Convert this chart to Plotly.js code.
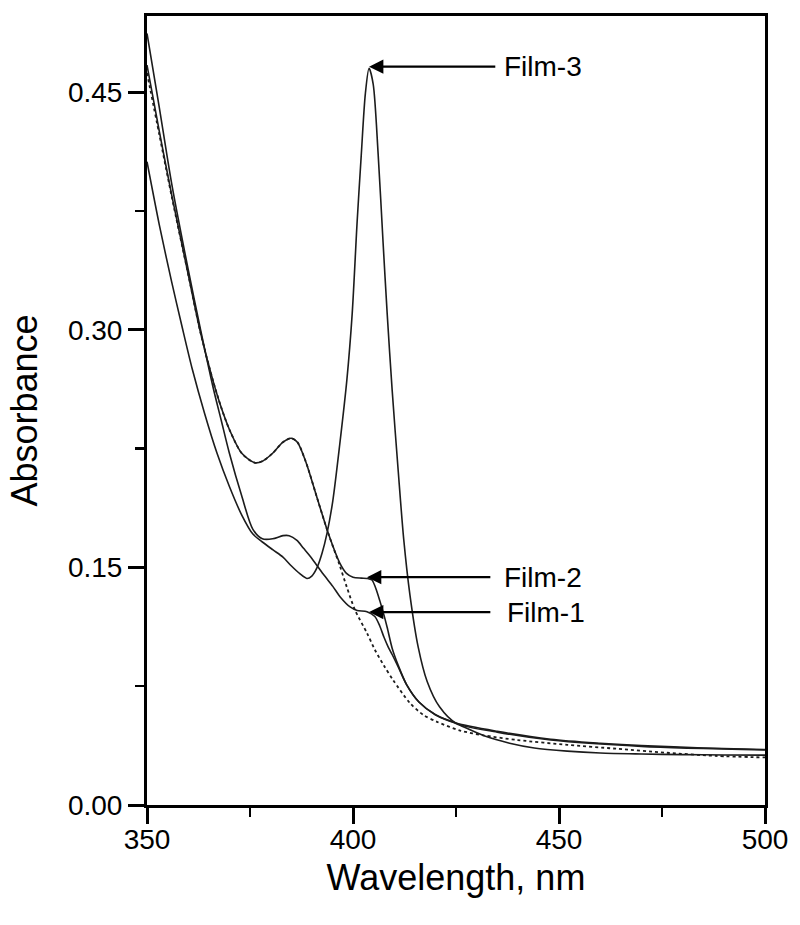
<!DOCTYPE html>
<html>
<head>
<meta charset="utf-8">
<script src="https://cdn.plot.ly/plotly-3.0.1.min.js"></script>
<style>html,body{margin:0;padding:0;background:#fff;}#chart{width:800px;height:925px;}</style>
</head>
<body>
<div id="chart"></div>
<script>
// Wavelength (nm) and absorbance values
const film1X = [350,353,356,360,363,366,368,370,373,375.7,378,380.5,383,384.5,386.4,388,389.6,391.3,393,395.1,397,399.3,401,403.4,405.3,406.5,407.5,408.5,409.5,411,413,416,420,425,432,438,444,452,460,470,480,490,500];
const film1Y = [0.487,0.440,0.392,0.338,0.300,0.264,0.243,0.222,0.195,0.174,0.168,0.168,0.170,0.170,0.167,0.162,0.157,0.151,0.145,0.138,0.131,0.125,0.1228,0.122,0.119,0.113,0.106,0.100,0.095,0.087,0.076,0.065,0.057,0.0515,0.0435,0.039,0.036,0.034,0.0328,0.0322,0.0318,0.0316,0.0315];

const film2X = [350,353,356,360,363,366,368,370,373,376.2,378,380.5,383,385,386.5,388.5,391.5,394,396.8,398.5,400,402,403.4,404.6,405.5,406.5,407.5,408.3,409.5,411,413,416,420,425,435,448,460,470,485,500];
const film2Y = [0.467,0.425,0.385,0.335,0.298,0.268,0.251,0.237,0.222,0.216,0.217,0.222,0.229,0.2315,0.229,0.217,0.192,0.1715,0.1527,0.146,0.1438,0.1432,0.143,0.142,0.137,0.129,0.120,0.112,0.099,0.088,0.076,0.065,0.057,0.0517,0.0465,0.0415,0.039,0.0375,0.036,0.035];

const film3X = [350,353,356,358.5,361,364,367,370,373,375.7,378,380.6,383,385,387.1,388.8,390,391.3,392.5,393.7,395.1,396.8,398.5,399.8,401,402,403,403.9,404.9,406.1,407.3,408.3,409.5,411,412.3,413.8,415.8,418,421,425,435,448,470,500];
const film3Y = [0.406,0.366,0.330,0.302,0.275,0.247,0.222,0.201,0.183,0.171,0.166,0.161,0.1565,0.151,0.146,0.143,0.1445,0.150,0.159,0.1716,0.192,0.228,0.268,0.310,0.368,0.410,0.449,0.465,0.455,0.411,0.355,0.310,0.262,0.210,0.168,0.133,0.100,0.078,0.062,0.0517,0.046,0.041,0.037,0.0347];

const dottedX = [350,353,356,360,363,366,368,370,373,376.2,378,380.5,383,385,386.5,388.5,391.5,394,396.8,398.5,400.5,403.4,405.3,407.5,409.7,413.8,417,420.4,426,431.6,440,452,464,476,488,500];
const dottedY = [0.462,0.423,0.384,0.335,0.298,0.268,0.251,0.237,0.222,0.216,0.217,0.222,0.229,0.2315,0.229,0.217,0.192,0.1715,0.151,0.1375,0.123,0.1085,0.098,0.088,0.079,0.0644,0.057,0.0525,0.047,0.044,0.041,0.038,0.0355,0.033,0.031,0.030];

const labels = ["Film-1","Film-2","Film-3"];
// arrow tips (data) and tails (data) for the annotations
const tipX = [403.9,403.4,403.9];
const tipY = [0.1218,0.1438,0.466];
const tailX = [433.7,433.7,434.9];
const textX = [436.9,436.2,436.2];

const xTicks = [350,400,450,500];
const yTicks = [0.00,0.15,0.30,0.45];

const FONT = "Liberation Sans, Arial, Helvetica, sans-serif";
const lineCol = "#1c1c1c";

const traces = [
  {x: dottedX, y: dottedY, mode:"lines", name:"dotted", line:{color:lineCol, width:1.8, dash:"dot", shape:"spline", smoothing:0.8}},
  {x: film1X, y: film1Y, mode:"lines", name:labels[0], line:{color:lineCol, width:1.6, shape:"spline", smoothing:0.8}},
  {x: film2X, y: film2Y, mode:"lines", name:labels[1], line:{color:lineCol, width:1.6, shape:"spline", smoothing:0.8}},
  {x: film3X, y: film3Y, mode:"lines", name:labels[2], line:{color:lineCol, width:1.6, shape:"spline", smoothing:0.8}}
];

const annotations = [];
for (let i=0;i<labels.length;i++){
  annotations.push({x: tipX[i], y: tipY[i], ax: tailX[i], ay: tipY[i], xref:"x", yref:"y", axref:"x", ayref:"y",
    text:"", showarrow:true, arrowhead:2, arrowsize:1.3, arrowwidth:2.2, arrowcolor:"#000", standoff:0});
  annotations.push({x: textX[i], y: tipY[i], xref:"x", yref:"y", text: labels[i], showarrow:false,
    xanchor:"left", yanchor:"middle", font:{family:FONT, size:28, color:"#000"}});
}

const layout = {
  width:800, height:925,
  margin:{l:147, r:35, t:16, b:120},
  paper_bgcolor:"#fff", plot_bgcolor:"#fff",
  showlegend:false,
  font:{family:FONT, color:"#000"},
  xaxis:{
    range:[350,500], tickvals:xTicks, ticktext:xTicks.map(String),
    showline:true, linewidth:3, linecolor:"#000", mirror:true,
    ticks:"outside", ticklen:16, tickwidth:3, tickcolor:"#000",
    minor:{ticks:"outside", ticklen:9, tickwidth:2.5, tickcolor:"#000", dtick:25, tick0:350, showgrid:false},
    showgrid:false, zeroline:false, ticklabelstandoff:-9,
    tickfont:{family:FONT, size:28, color:"#000"},
    title:{text:"Wavelength, nm", font:{family:FONT, size:36, color:"#000"}, standoff:12}
  },
  yaxis:{
    range:[0,0.498], tickvals:yTicks, ticktext:yTicks.map(v=>v.toFixed(2)),
    showline:true, linewidth:3, linecolor:"#000", mirror:true,
    ticks:"outside", ticklen:16, tickwidth:3, tickcolor:"#000",
    minor:{ticks:"outside", ticklen:9, tickwidth:2.5, tickcolor:"#000", dtick:0.075, tick0:0, showgrid:false},
    showgrid:false, zeroline:false,
    tickfont:{family:FONT, size:28, color:"#000"},
    title:{text:"Absorbance", font:{family:FONT, size:36, color:"#000"}, standoff:20}
  },
  annotations: annotations
};

Plotly.newPlot("chart", traces, layout, {displayModeBar:false, staticPlot:true});
</script>
</body>
</html>
